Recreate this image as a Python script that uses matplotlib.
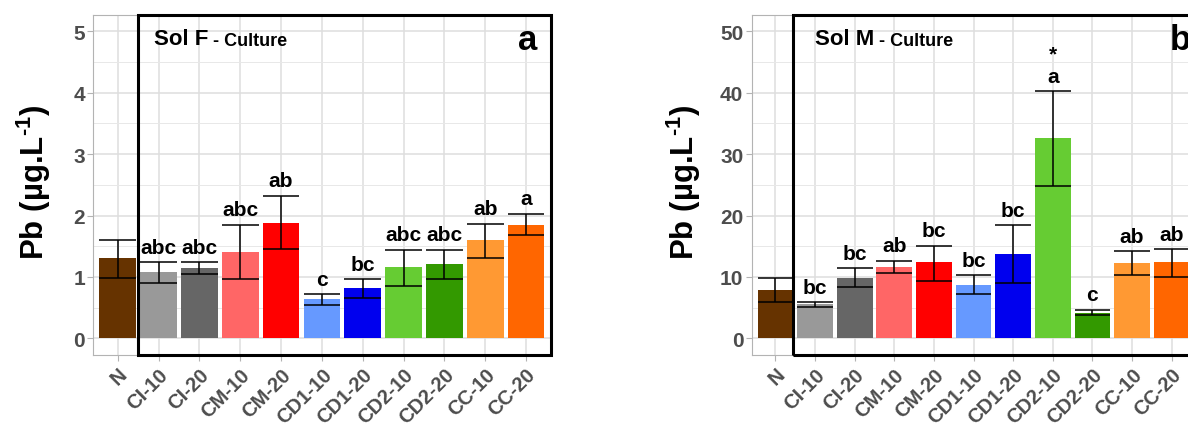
import numpy as np
import matplotlib
matplotlib.use("Agg")
from matplotlib import pyplot as plt
from matplotlib.patches import Rectangle
from matplotlib.ticker import MultipleLocator
from matplotlib.transforms import blended_transform_factory

plt.rcParams['font.family'] = ['Liberation Sans', 'DejaVu Sans']
plt.rcParams['font.weight'] = 'bold'
plt.rcParams['mathtext.fontset'] = 'custom'
plt.rcParams['mathtext.rm'] = 'Liberation Sans:bold'
plt.rcParams['mathtext.bf'] = 'Liberation Sans:bold'

categories = ['N', 'CI-10', 'CI-20', 'CM-10', 'CM-20', 'CD1-10', 'CD1-20',
              'CD2-10', 'CD2-20', 'CC-10', 'CC-20']
colors = ['#663300', '#999999', '#666666', '#ff6666', '#ff0000', '#6699ff',
          '#0000ee', '#66cc33', '#339900', '#ff9933', '#ff6600']

# Sol F
solF_mean = [1.31, 1.08, 1.15, 1.41, 1.88, 0.635, 0.82, 1.17, 1.21, 1.60, 1.85]
solF_upper = [1.61, 1.24, 1.24, 1.85, 2.32, 0.72, 0.96, 1.44, 1.44, 1.87, 2.03]
solF_lower = [0.98, 0.91, 1.05, 0.96, 1.45, 0.54, 0.66, 0.86, 0.96, 1.31, 1.68]
solF_letters = ['', 'abc', 'abc', 'abc', 'ab', 'c', 'bc', 'abc', 'abc', 'ab', 'a']

# Sol M
solM_mean = [7.9, 5.6, 9.9, 11.7, 12.4, 8.7, 13.8, 32.6, 4.2, 12.2, 12.4]
solM_upper = [9.8, 5.9, 11.4, 12.6, 15.1, 10.3, 18.4, 40.2, 4.7, 14.2, 14.5]
solM_lower = [6.0, 5.1, 8.4, 10.7, 9.3, 7.3, 9.1, 24.8, 3.8, 10.3, 10.0]
solM_letters = ['', 'bc', 'bc', 'ab', 'bc', 'bc', 'bc', 'a', 'c', 'ab', 'ab']
solM_star = ['', '', '', '', '', '', '', '*', '', '', '']

W, H = 1188, 427


def panel(ax, mean, upper, lower, letters, ymax, step, rect_x0, soil, title_x, tag, tag_x, stars=None):
    x = np.arange(1, len(categories) + 1)
    ax.bar(x, mean, width=0.9, color=colors, zorder=2)
    ax.vlines(x, lower, upper, color='black', lw=1.1, zorder=3)
    ax.hlines(upper, x - 0.45, x + 0.45, color='black', lw=1.1, zorder=3)
    ax.hlines(lower, x - 0.45, x + 0.45, color='black', lw=1.1, zorder=3)
    for xi, u, lab in zip(x, upper, letters):
        if lab:
            ax.annotate(lab, (xi, u), xytext=(0, 4), textcoords='offset points',
                        ha='center', va='bottom', fontsize=15, color='black')
    if stars:
        for xi, u, s in zip(x, upper, stars):
            if s:
                ax.annotate(s, (xi, u), xytext=(0, 20), textcoords='offset points',
                            ha='center', va='bottom', fontsize=15, color='black')

    ax.set_xlim(0.4, len(categories) + 0.6)
    ax.set_ylim(-0.053 * ymax, 1.054 * ymax)
    ax.yaxis.set_major_locator(MultipleLocator(step))
    ax.yaxis.set_minor_locator(MultipleLocator(step / 2))
    ax.set_xticks(x)
    ax.set_xticklabels(categories, rotation=45, ha='right', rotation_mode='anchor')
    ax.grid(which='major', color='#dedede', lw=1.1, zorder=0)
    ax.grid(which='minor', axis='y', color='#e8e8e8', lw=0.7, zorder=0)
    ax.set_axisbelow(True)
    ax.tick_params(which='major', length=4, width=0.8, color='#b3b3b3',
                   labelcolor='#4d4d4d', labelsize=15, pad=2)
    ax.tick_params(axis='x', labelsize=14.5, pad=3)
    ax.tick_params(which='minor', length=0)
    for sp in ax.spines.values():
        sp.set_color('#b3b3b3')
        sp.set_linewidth(0.8)

    # black frame around the treated modalities
    trans = blended_transform_factory(ax.transData, ax.transAxes)
    ax.add_patch(Rectangle((rect_x0, 0), len(categories) + 0.6 - rect_x0, 1,
                           transform=trans, fill=False, ec='black', lw=2.2,
                           clip_on=False, zorder=6))

    t = ax.text(title_x, 0.914, soil, transform=ax.transAxes,
                fontsize=16, ha='left', va='baseline', color='black')
    ax.annotate(' - Culture', xy=(1, 0), xycoords=t, xytext=(0, 0),
                textcoords='offset points', fontsize=13, ha='left', va='bottom',
                color='black')
    ax.text(tag_x, 0.90, tag, transform=ax.transAxes, fontsize=25,
            ha='left', va='baseline', color='black', clip_on=False)


bottom = (H - 355.7) / H
height = 340 / H
fig = plt.figure(figsize=(W / 100, H / 100), dpi=100)
axL = fig.add_axes([93.3 / W, bottom, 457.2 / W, height])
axR = fig.add_axes([751.7 / W, bottom, 443.7 / W, height])

panel(axL, solF_mean, solF_upper, solF_lower, solF_letters, 5.0, 1, 1.505,
      'Sol F', 0.133, 'a', 0.930)
panel(axR, solM_mean, solM_upper, solM_lower, solM_letters, 50.0, 10, 1.44,
      'Sol M', 0.143, 'b', 0.943, stars=solM_star)

ylab = r'Pb (µg.L$^{\text{-1}}$)'
fig.text(34 / W, 1 - 182 / H, ylab, rotation=90, ha='center', va='center',
         fontsize=22.5, color='black')
fig.text(684 / W, 1 - 182 / H, ylab, rotation=90, ha='center', va='center',
         fontsize=22.5, color='black')

fig.savefig('out.png', dpi=100)
